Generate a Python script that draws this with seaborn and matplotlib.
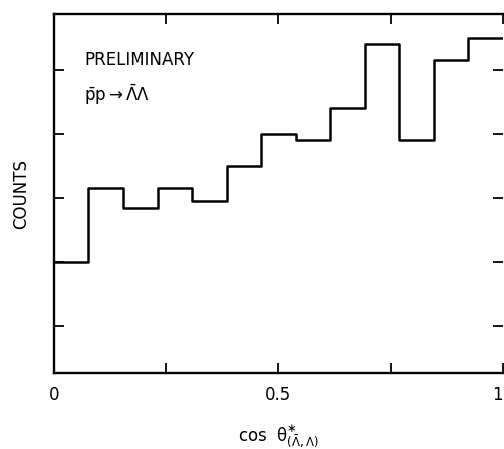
import numpy as np
import pandas as pd
import matplotlib
matplotlib.use("Agg")
import matplotlib.pyplot as plt
import seaborn as sns

# bin layout: 13 equal bins on cos(theta*) in [0, 1]
bin_edges = list(np.linspace(0, 1, 14))
bin_centers = [0.5 * (a + b) for a, b in zip(bin_edges[:-1], bin_edges[1:])]
counts = [40, 63, 57, 63, 59, 70, 80, 78, 88, 108, 78, 103, 110]

x_ticks = [0, 0.25, 0.5, 0.75, 1]
x_tick_labels = ["0", "", "0.5", "", "1"]
y_ticks = [20, 40, 60, 80, 100]

df = pd.DataFrame({"cos_theta": bin_centers, "counts": counts})

sns.set_style("ticks")
plt.rcParams["font.family"] = ["DejaVu Sans"]
plt.rcParams["text.color"] = "black"
plt.rcParams["axes.labelcolor"] = "black"
plt.rcParams["xtick.color"] = "black"
plt.rcParams["ytick.color"] = "black"

fig = plt.figure(figsize=(5.04, 4.49), dpi=100)
ax = fig.add_axes([0.107, 0.169, 0.891, 0.80])

sns.histplot(data=df, x="cos_theta", weights="counts", bins=bin_edges,
             element="step", fill=False, color="black", linewidth=1.8, ax=ax)

ax.set_xlim(0, 1)
ax.set_ylim(5.3, 117.5)
ax.set_xticks(x_ticks)
ax.set_xticklabels(x_tick_labels, fontsize=12)
# the frame runs off the page on the right; keep the "1" on the page
ax.get_xticklabels()[-1].set_horizontalalignment("right")
ax.set_yticks(y_ticks)
ax.set_yticklabels([])
ax.tick_params(axis="both", direction="in", length=7, width=1.3,
               top=True, right=True, pad=9)
for s in ax.spines.values():
    s.set_linewidth(1.7)
    s.set_color("black")
ax.spines["right"].set_visible(False)

ax.set_xlabel(r"cos  $\mathrm{\theta}^{\ast}_{(\bar{\Lambda},\Lambda)}$",
              fontsize=12, labelpad=14)
ax.set_ylabel("COUNTS", fontsize=12, labelpad=8)

ax.text(0.068, 0.872, "PRELIMINARY", transform=ax.transAxes, fontsize=12,
        ha="left", va="center")
ax.text(0.068, 0.774, r"$\bar{\mathrm{p}}\mathrm{p}\rightarrow\bar{\Lambda}\Lambda$",
        transform=ax.transAxes, fontsize=12, ha="left", va="center")

fig.savefig("out.png", dpi=100)
